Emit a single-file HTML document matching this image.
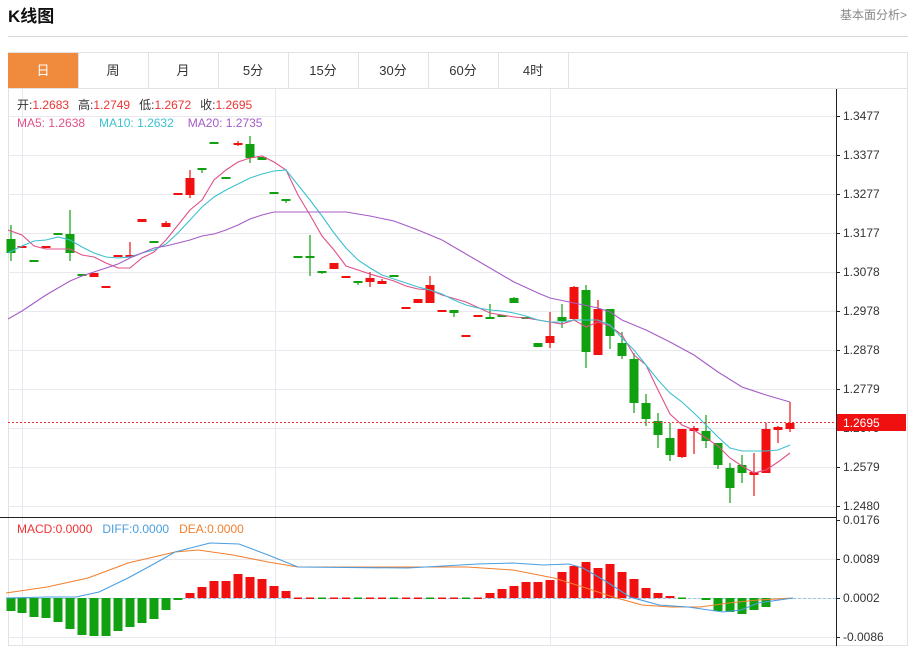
<!DOCTYPE html>
<html><head><meta charset="utf-8"><style>
html,body{margin:0;padding:0;background:#fff;}
body{width:910px;height:646px;overflow:hidden;font-family:"Liberation Sans","Noto Sans CJK SC",sans-serif;}
</style></head><body>
<svg id="s" width="910" height="646" xmlns="http://www.w3.org/2000/svg" font-family="Liberation Sans, Noto Sans CJK SC, sans-serif">
<text x="8" y="22" font-size="17" font-weight="bold" fill="#111">K线图</text>
<text x="907" y="19" font-size="12" fill="#888" text-anchor="end">基本面分析&gt;</text>
<line x1="8" y1="36.5" x2="908" y2="36.5" stroke="#d8d8d8"/>
<rect x="8.5" y="52.5" width="899" height="593" fill="none" stroke="#e2e2e2"/>
<line x1="8" y1="88.5" x2="908" y2="88.5" stroke="#e2e2e2"/>
<rect x="8" y="53" width="70" height="35" fill="#f08a3c"/>
<g font-size="13" text-anchor="middle" fill="#333">
<text x="43" y="75" fill="#fff">日</text>
<text x="113" y="75">周</text><text x="183" y="75">月</text><text x="253" y="75">5分</text>
<text x="323" y="75">15分</text><text x="393" y="75">30分</text><text x="463" y="75">60分</text><text x="533" y="75">4时</text>
</g>
<g stroke="#e2e2e2">
<line x1="78.5" y1="53" x2="78.5" y2="88"/><line x1="148.5" y1="53" x2="148.5" y2="88"/><line x1="218.5" y1="53" x2="218.5" y2="88"/><line x1="288.5" y1="53" x2="288.5" y2="88"/><line x1="358.5" y1="53" x2="358.5" y2="88"/><line x1="428.5" y1="53" x2="428.5" y2="88"/><line x1="498.5" y1="53" x2="498.5" y2="88"/><line x1="568.5" y1="53" x2="568.5" y2="88"/>
</g>
<g id="grid" stroke="#e8e8ee"></g>
<g id="c"></g>
<line x1="836.5" y1="89" x2="836.5" y2="646" stroke="#222"/>
<line x1="0" y1="517.5" x2="836" y2="517.5" stroke="#222"/>
<line x1="8" y1="422.5" x2="836" y2="422.5" stroke="#e33" stroke-dasharray="2,2"/>
<g id="ticks" font-size="12" fill="#333"></g>
<rect x="837" y="414" width="69" height="17" fill="#f01010"/>
<text x="843" y="427" font-size="12" fill="#fff">1.2695</text>
<g font-size="12">
<text x="17" y="109" fill="#333">开:<tspan fill="#e33">1.2683</tspan><tspan dx="9" fill="#333">高:</tspan><tspan fill="#e33">1.2749</tspan><tspan dx="9" fill="#333">低:</tspan><tspan fill="#e33">1.2672</tspan><tspan dx="9" fill="#333">收:</tspan><tspan fill="#e33">1.2695</tspan></text>
<text x="17" y="127" fill="#e0508a">MA5: 1.2638<tspan dx="14" fill="#3cc0d0">MA10: 1.2632</tspan><tspan dx="14" fill="#a55cc6">MA20: 1.2735</tspan></text>
<text x="17" y="533" fill="#e33">MACD:0.0000<tspan dx="10" fill="#4a9ee0">DIFF:0.0000</tspan><tspan dx="10" fill="#f08030">DEA:0.0000</tspan></text>
</g>
</svg>
<script>
var NS="http://www.w3.org/2000/svg";
function el(p,t,a){var e=document.createElementNS(NS,t);for(var k in a)e.setAttribute(k,a[k]);document.getElementById(p).appendChild(e);return e;}
[116,155,194,233,272,311,350,389,428,467,506,559,598,637].forEach(function(y){el("grid","line",{x1:8,x2:836,y1:y+.5,y2:y+.5});});
[22,275,550].forEach(function(x){el("grid","line",{x1:x+.5,x2:x+.5,y1:89,y2:517});el("grid","line",{x1:x+.5,x2:x+.5,y1:518,y2:646});});
var tk=[[116,"1.3477"],[155,"1.3377"],[194,"1.3277"],[233,"1.3177"],[272,"1.3078"],[311,"1.2978"],[350,"1.2878"],[389,"1.2779"],[428,"1.2679"],[467,"1.2579"],[506,"1.2480"],[520,"0.0176"],[559,"0.0089"],[598,"0.0002"],[637,"-0.0086"]];
tk.forEach(function(t){el("ticks","line",{x1:836,x2:840,y1:t[0]+.5,y2:t[0]+.5,stroke:"#222"});var e=el("ticks","text",{x:843,y:t[0]+4});e.textContent=t[1];});
// x, top, bottom, high, low, color
var C=[[11,239,253,225,261,"g"],[22,246,248,246,248,"r"],[34,260,262,260,262,"g"],[46,246,248,246,248,"r"],[58,233,235,233,235,"g"],[70,234,253,210,261,"g"],[82,274,276,274,276,"g"],[94,273,277,273,277,"r"],[106,286,288,286,288,"r"],[118,255,257,255,257,"r"],[130,255,257,242,257,"r"],[142,219,222,219,222,"r"],[154,241,243,241,243,"g"],[166,223,227,221,227,"r"],[178,193,195,193,195,"r"],[190,178,195,170,198,"r"],[202,168,170,168,173,"g"],[214,142,144,142,144,"g"],[226,177,179,177,179,"g"],[238,143,145,141,146,"r"],[250,144,158,136,163,"g"],[262,157,160,157,160,"g"],[274,192,194,192,194,"g"],[286,199,201,199,203,"g"],[298,256,258,256,258,"g"],[310,256,258,235,276,"g"],[322,271,273,271,274,"g"],[334,263,269,263,269,"r"],[346,276,278,276,278,"r"],[358,281,283,281,285,"g"],[370,278,282,272,287,"r"],[382,281,284,279,284,"r"],[394,275,277,275,277,"g"],[406,307,309,307,309,"r"],[418,299,303,299,303,"r"],[430,285,303,276,303,"r"],[442,310,312,310,312,"r"],[454,310,313,310,317,"g"],[466,335,337,335,337,"r"],[478,315,317,315,317,"r"],[490,317,319,304,319,"g"],[502,315,317,315,317,"g"],[514,298,303,297,303,"g"],[526,317,319,317,319,"g"],[538,343,347,343,347,"g"],[550,336,343,312,348,"r"],[562,317,321,304,328,"g"],[574,287,319,286,320,"r"],[586,290,352,285,368,"g"],[598,309,355,300,355,"r"],[610,309,336,309,349,"g"],[622,343,356,332,359,"g"],[634,359,403,353,413,"g"],[646,403,419,394,426,"g"],[658,421,435,413,448,"g"],[670,438,455,423,461,"g"],[682,429,457,429,458,"r"],[694,428,431,426,454,"r"],[706,431,441,415,448,"g"],[718,443,465,443,469,"g"],[730,468,488,463,503,"g"],[742,465,473,455,483,"g"],[754,472,475,453,496,"r"],[766,429,473,423,473,"r"],[778,427,430,426,443,"r"],[790,423,429,402,432,"r"]];
C.forEach(function(c){var col=c[5]=="g"?"#10a010":"#f01010";el("c","line",{x1:c[0],x2:c[0],y1:c[3],y2:c[4],stroke:col,"stroke-width":1.2});el("c","rect",{x:c[0]-4.5,y:c[1],width:9,height:Math.max(1.5,c[2]-c[1]),fill:col});});
function pl(pts,col){el("c","polyline",{points:pts,fill:"none",stroke:col,"stroke-width":1.1});}
pl("8,230 22,235 34,246 46,249 70,249 82,255 94,257 106,263 118,268 130,268 142,258 154,252 166,240 178,225 190,210 202,200 214,180 226,170 238,162 250,158 262,156 274,162 286,170 298,195 310,215 322,236 334,250 346,266 370,274 394,281 406,286 418,289 430,290 442,295 466,302 490,313 514,317 526,318 550,322 562,324 574,320 586,327 598,322 610,326 622,335 634,355 646,365 658,390 670,414 682,425 694,430 706,438 718,446 730,458 742,466 754,473 766,470 778,462 790,453","#e0508a");
pl("8,253 22,246 34,241 46,240 58,237 70,240 82,247 94,253 106,257 118,258 130,257 142,253 154,250 166,244 178,233 190,220 202,207 214,197 226,190 238,184 250,178 262,174 274,171 286,170 298,185 310,200 322,216 334,233 346,248 358,260 370,268 382,275 394,279 406,283 418,287 430,290 442,294 454,300 466,305 478,308 490,310 502,311 514,313 526,316 538,320 550,322 562,322 574,320 586,320 598,320 610,325 622,338 634,350 646,365 658,380 670,393 682,402 694,413 706,425 718,437 730,448 742,451 754,451 766,451 778,450 790,445","#3cc0d0");
pl("8,319 22,311 46,295 70,281 82,276 94,272 118,264 130,258 142,253 154,248 166,246 178,243 190,240 202,236 214,234 226,230 238,225 250,219 262,215 274,212 286,212 310,212 334,212 346,212 370,216 394,221 418,230 442,240 466,254 490,268 514,282 538,293 550,298 574,303 598,308 610,312 622,320 646,330 670,342 694,355 718,372 742,387 766,395 790,402","#a55cc6");
el("c","line",{x1:8,x2:836,y1:598.5,y2:598.5,stroke:"#9cc8e8","stroke-dasharray":"3,2"});
var H={1:611,2:613,3:617,4:618,5:622,6:629,7:635,8:636,9:636,10:631,11:627,12:623,13:619,14:610,15:600,16:593,17:587,18:581,19:581,20:574,21:577,22:579,23:586,24:591,41:593,42:589,43:586,44:582,45:582,46:580,47:572,48:566,49:562,50:568,51:564,52:572,53:579,54:588,55:593,56:596,59:600,60:611,61:612,62:614,63:610,64:607};
for(var i=1;i<=66;i++){var x=C[i-1][0];var v=H[i];if(v===undefined){if(i>24&&i<58)el("c","rect",{x:x-4,y:597.5,width:8,height:1.5,fill:(i%3?"#f01010":"#10a010")});continue;}
if(v>598)el("c","rect",{x:x-4.5,y:598,width:9,height:v-598,fill:"#10a010"});else el("c","rect",{x:x-4.5,y:v,width:9,height:598-v,fill:"#f01010"});}
pl("6,593 47,587 88,578 128,563 175,552 198,550 233,555 268,562 298,567 408,567 467,567 513,570 554,578 583,587 613,597 642,605 671,607 700,607 729,603 758,600 793,598","#f08030");
pl("6,598 47,597 76,597 99,592 128,578 152,565 175,552 210,543 239,544 268,555 298,567 408,568 478,564 513,563 543,565 569,564 583,568 607,582 630,597 659,605 688,607 723,612 741,610 758,603 793,598","#4a9ee0");
</script>
</body></html>
